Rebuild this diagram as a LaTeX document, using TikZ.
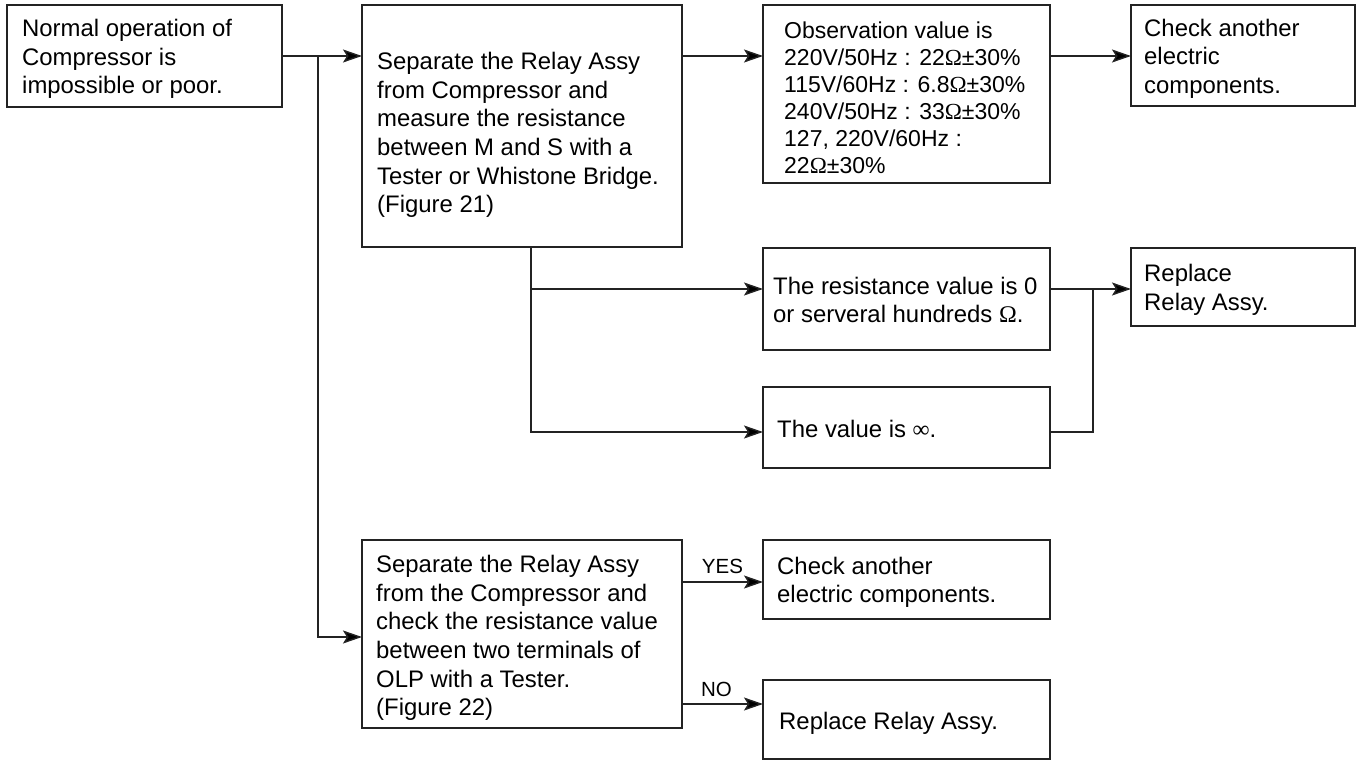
\documentclass[tikz,border=0pt]{standalone}
\usepackage{fontspec}
\setmainfont{Liberation Sans}
\newfontfamily\symf{Liberation Serif}
\usetikzlibrary{arrows.meta}
\newcommand{\Om}{{\symf Ω}}
\newcommand{\Inf}{{\symf ∞}}
\definecolor{linec}{RGB}{35,35,35}
\begin{document}
\begin{tikzpicture}[x=1pt,y=-1pt,
  box/.style={draw=linec, line width=1.4pt, rectangle, anchor=north west, inner sep=0pt, outer sep=0pt},
  txt/.style={anchor=west, align=left, inner sep=0pt, font=\fontsize{23.9}{28.6}\selectfont},
  txtb/.style={anchor=west, align=left, inner sep=0pt, font=\fontsize{23}{27}\selectfont},
  lbl/.style={inner sep=0pt, font=\fontsize{20.5}{24}\selectfont},
  conn/.style={draw=linec, line width=1.4pt},
  arr/.style={conn, -{Stealth[length=19pt,width=13pt,inset=4pt,fill=black]}}]
\useasboundingbox (0,0) rectangle (1361,760);

% boxes
\node[box, minimum width=275pt, minimum height=102pt] (b1) at (7,5) {};
\node[box, minimum width=320pt, minimum height=242pt] (b2) at (362,5) {};
\node[box, minimum width=287pt, minimum height=178pt] (b3) at (763,5) {};
\node[box, minimum width=224pt, minimum height=101pt] (b4) at (1131,5) {};
\node[box, minimum width=287pt, minimum height=102pt] (b5) at (763,248) {};
\node[box, minimum width=287pt, minimum height=81pt] (b7) at (763,387) {};
\node[box, minimum width=224pt, minimum height=78pt] (b8) at (1131,248) {};
\node[box, minimum width=320pt, minimum height=188pt] (b6) at (362,540) {};
\node[box, minimum width=287pt, minimum height=79pt] (b9) at (763,540) {};
\node[box, minimum width=287pt, minimum height=79pt] (b10) at (763,680) {};

% texts
\node[txt] (t1) at ([xshift=15pt,yshift=-3pt]b1.west) {Normal operation of\\Compressor is\\impossible or poor.};
\node[txt] (t2) at ([xshift=15pt,yshift=-9pt]b2.west) {Separate the Relay Assy\\from Compressor and\\measure the resistance\\between M and S with a\\Tester or Whistone Bridge.\\(Figure 21)};
\node[txtb] (t3) at ([xshift=21pt,yshift=-4pt]b3.west) {Observation value is\\220V/50Hz : 22\Om±30\%\\115V/60Hz : 6.8\Om±30\%\\240V/50Hz : 33\Om±30\%\\127, 220V/60Hz :\\22\Om±30\%};
\node[txt] (t4) at ([xshift=13pt,yshift=-3pt]b4.west) {Check another\\electric\\components.};
\node[txt] (t5) at ([xshift=10pt,yshift=-1pt]b5.west) {The resistance value is 0\\or serveral hundreds \Om.};
\node[txt] (t7) at ([xshift=14pt,yshift=-1pt]b7.west) {The value is \Inf.};
\node[txt] (t8) at ([xshift=13pt,yshift=-3pt]b8.west) {Replace\\Relay Assy.};
\node[txt] (t6) at ([xshift=14pt,yshift=-4pt]b6.west) {Separate the Relay Assy\\from the Compressor and\\check the resistance value\\between two terminals of\\OLP with a Tester.\\(Figure 22)};
\node[txt] (t9) at ([xshift=14pt,yshift=-3pt]b9.west) {Check another\\electric components.};
\node[txt] (t10) at ([xshift=16pt,yshift=-4pt]b10.west) {Replace Relay Assy.};

% helper coordinates
\coordinate (r1) at (0,56);
\coordinate (r2) at (0,289);
\coordinate (r3) at (0,432);
\coordinate (r4) at (0,582);
\coordinate (r5) at (0,704);
\coordinate (r6) at (0,637);
\coordinate (j1) at (318,56);
\coordinate (c2) at (531,0);
\coordinate (c3) at (1093,0);

% connectors
\draw[arr] (b1.east |- r1) -- (b2.west |- r1);
\draw[arr] (j1) |- (b6.west |- r6);
\draw[arr] (b2.east |- r1) -- (b3.west |- r1);
\draw[arr] (b3.east |- r1) -- (b4.west |- r1);
\draw[arr] (b2.south -| c2) |- (b7.west |- r3);
\draw[arr] (c2 |- r2) -- (b5.west |- r2);
\draw[arr] (b5.east |- r2) -- (b8.west |- r2);
\draw[conn] (b7.east |- r3) -| (c3 |- r2);
\draw[arr] (b6.east |- r4) -- node[lbl, above=8pt] (yes) {YES} (b9.west |- r4);
\draw[arr] (b6.east |- r5) -- node[lbl, above=7pt, xshift=-6pt] (no) {NO} (b10.west |- r5);
\end{tikzpicture}
\end{document}
